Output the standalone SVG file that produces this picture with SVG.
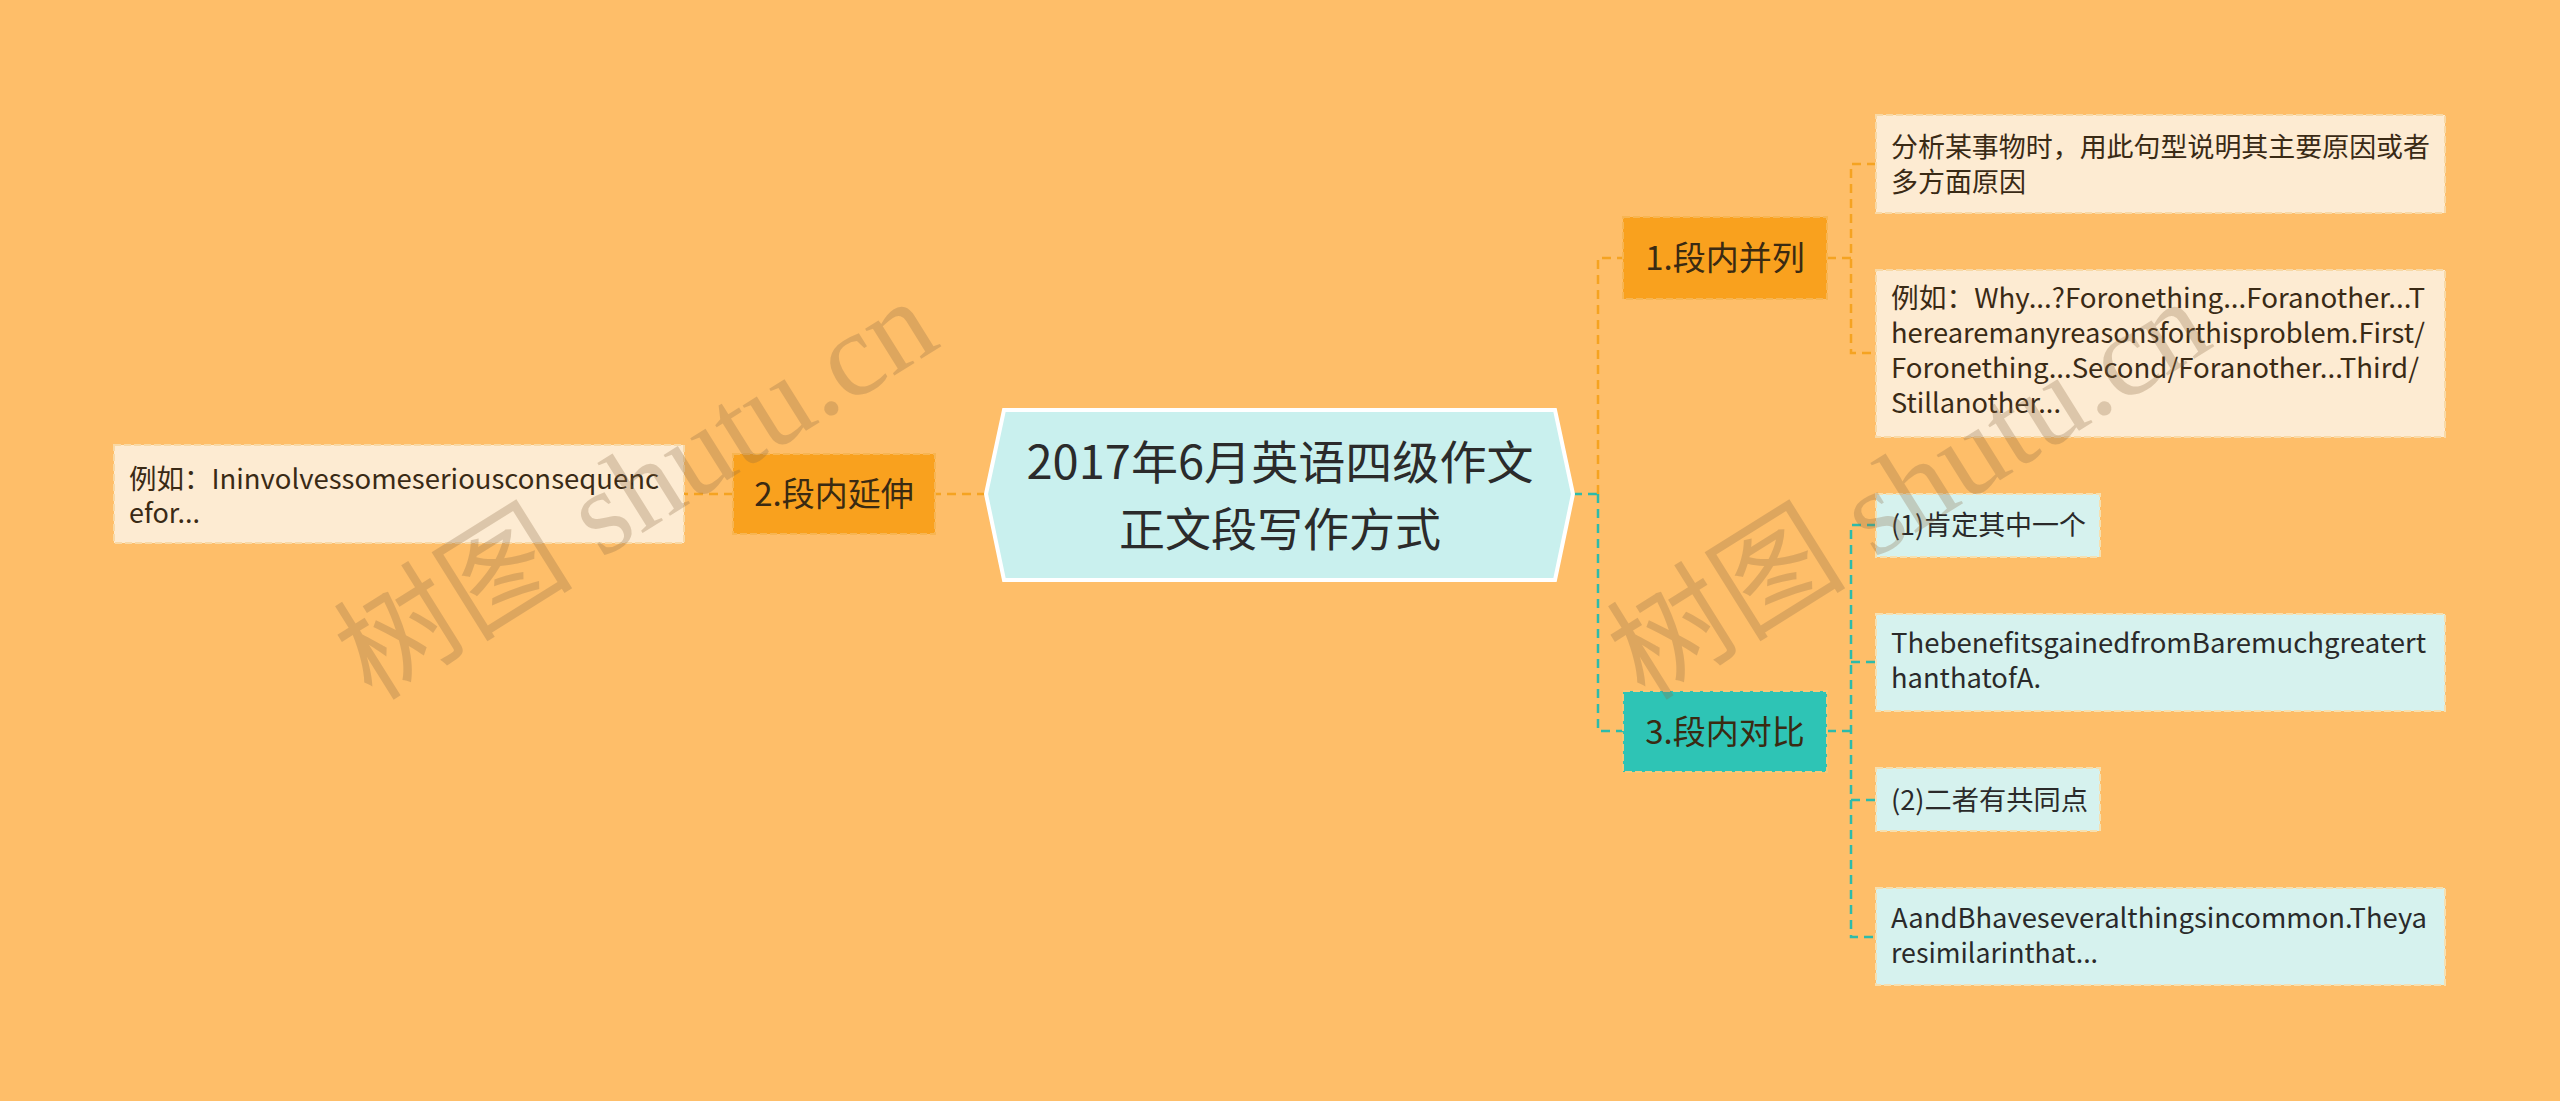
<svg xmlns="http://www.w3.org/2000/svg" width="2560" height="1101" viewBox="0 0 2560 1101">
<style>
text{font-family:"Noto Sans CJK SC","Noto Sans",sans-serif;}
.c-or{fill:none;stroke:#F5A321;stroke-width:2.5;stroke-dasharray:9 6;}
.c-te{fill:none;stroke:#2DBBAA;stroke-width:2.5;stroke-dasharray:9 6;}
.leafO rect{fill:#FDEBD2;stroke:#F8D9A6;stroke-width:2;stroke-dasharray:7 3;}
.leafC rect{fill:#D6F2EE;stroke:#F6E0B0;stroke-width:2;stroke-dasharray:7 3;}
.leaf text{font-size:27px;fill:#3A2A15;}
.leafC text{fill:#2A2A2A;}
.n2 text{font-size:33px;fill:#3A2A12;}
.wm{font-size:120px;fill:#8B6A45;opacity:0.28;font-family:"Liberation Serif","Noto Sans CJK SC",serif;}
</style>
<rect width="2560" height="1101" fill="#FEBE69"/>
<g id="connectors">
<path class="c-or" d="M986 494 H935"/>
<path class="c-or" d="M733 494 H684"/>
<path class="c-te" d="M1573 494 H1598"/>
<path class="c-or" d="M1598 494 V258 H1623"/>
<path class="c-te" d="M1598 494 V731 H1623"/>
<path class="c-or" d="M1827 258 H1851"/>
<path class="c-or" d="M1876 164 H1851 V353 H1876"/>
<path class="c-te" d="M1827 731 H1851"/>
<path class="c-te" d="M1876 525 H1851 V937 H1876 M1851 662 H1876 M1851 800 H1876"/>
</g>
<g id="center">
<polygon points="986,494 1004,410 1555,410 1573,494 1555,580 1004,580" fill="#C9F0EE" stroke="#FFFFFF" stroke-width="4"/>
<text x="1280" y="479" text-anchor="middle" font-size="46" fill="#2B2B2B" textLength="507" lengthAdjust="spacingAndGlyphs">2017年6月英语四级作文</text>
<text x="1280" y="546" text-anchor="middle" font-size="46" fill="#2B2B2B">正文段写作方式</text>
</g>
<g id="n-2" class="n2">
<rect x="733" y="454" width="202" height="80" fill="#F9A11E" stroke="#F7B552" stroke-width="2" stroke-dasharray="7 3"/>
<text x="834" y="506" text-anchor="middle">2.段内延伸</text>
</g>
<g id="n-1" class="n2">
<rect x="1623" y="217" width="204" height="82" fill="#F9A11E" stroke="#F7B552" stroke-width="2" stroke-dasharray="7 3"/>
<text x="1725" y="270" text-anchor="middle">1.段内并列</text>
</g>
<g id="n-3" class="n2">
<rect x="1623" y="691" width="204" height="81" fill="#2EC4B5" stroke="#F6C77A" stroke-width="2" stroke-dasharray="7 3"/>
<text x="1725" y="744" text-anchor="middle" fill="#1E2E2A">3.段内对比</text>
</g>
<g id="leaf-2a" class="leaf leafO">
<rect x="114" y="445" width="570" height="98"/>
<text x="129" y="489" textLength="530" lengthAdjust="spacingAndGlyphs">例如：Ininvolvessomeseriousconsequenc</text>
<text x="129" y="523" textLength="71" lengthAdjust="spacingAndGlyphs">efor...</text>
</g>
<g id="leaf-1a" class="leaf leafO">
<rect x="1876" y="115" width="569" height="98"/>
<text x="1891" y="157" textLength="539" lengthAdjust="spacingAndGlyphs">分析某事物时，用此句型说明其主要原因或者</text>
<text x="1891" y="192">多方面原因</text>
</g>
<g id="leaf-1b" class="leaf leafO">
<rect x="1876" y="270" width="569" height="167"/>
<text x="1891" y="308" textLength="534" lengthAdjust="spacingAndGlyphs">例如：Why...?Foronething...Foranother...T</text>
<text x="1891" y="343" textLength="534" lengthAdjust="spacingAndGlyphs">herearemanyreasonsforthisproblem.First/</text>
<text x="1891" y="378" textLength="528" lengthAdjust="spacingAndGlyphs">Foronething...Second/Foranother...Third/</text>
<text x="1891" y="413" textLength="170" lengthAdjust="spacingAndGlyphs">Stillanother...</text>
</g>
<g id="leaf-3a" class="leaf leafC">
<rect x="1876" y="494" width="224" height="63"/>
<text x="1891" y="535" textLength="195" lengthAdjust="spacingAndGlyphs">(1)肯定其中一个</text>
</g>
<g id="leaf-3b" class="leaf leafC">
<rect x="1876" y="614" width="569" height="97"/>
<text x="1891" y="653" textLength="535" lengthAdjust="spacingAndGlyphs">ThebenefitsgainedfromBaremuchgreatert</text>
<text x="1891" y="688" textLength="150" lengthAdjust="spacingAndGlyphs">hanthatofA.</text>
</g>
<g id="leaf-3c" class="leaf leafC">
<rect x="1876" y="768" width="224" height="63"/>
<text x="1891" y="810" textLength="197" lengthAdjust="spacingAndGlyphs">(2)二者有共同点</text>
</g>
<g id="leaf-3d" class="leaf leafC">
<rect x="1876" y="888" width="569" height="97"/>
<text x="1891" y="928" textLength="536" lengthAdjust="spacingAndGlyphs">AandBhaveseveralthingsincommon.Theya</text>
<text x="1891" y="963" textLength="207" lengthAdjust="spacingAndGlyphs">resimilarinthat...</text>
</g>
<g id="watermarks">
<text class="wm" transform="translate(372,702) rotate(-32)">树图 shutu.cn</text>
<text class="wm" transform="translate(1645,702) rotate(-32)">树图 shutu.cn</text>
</g>
</svg>
